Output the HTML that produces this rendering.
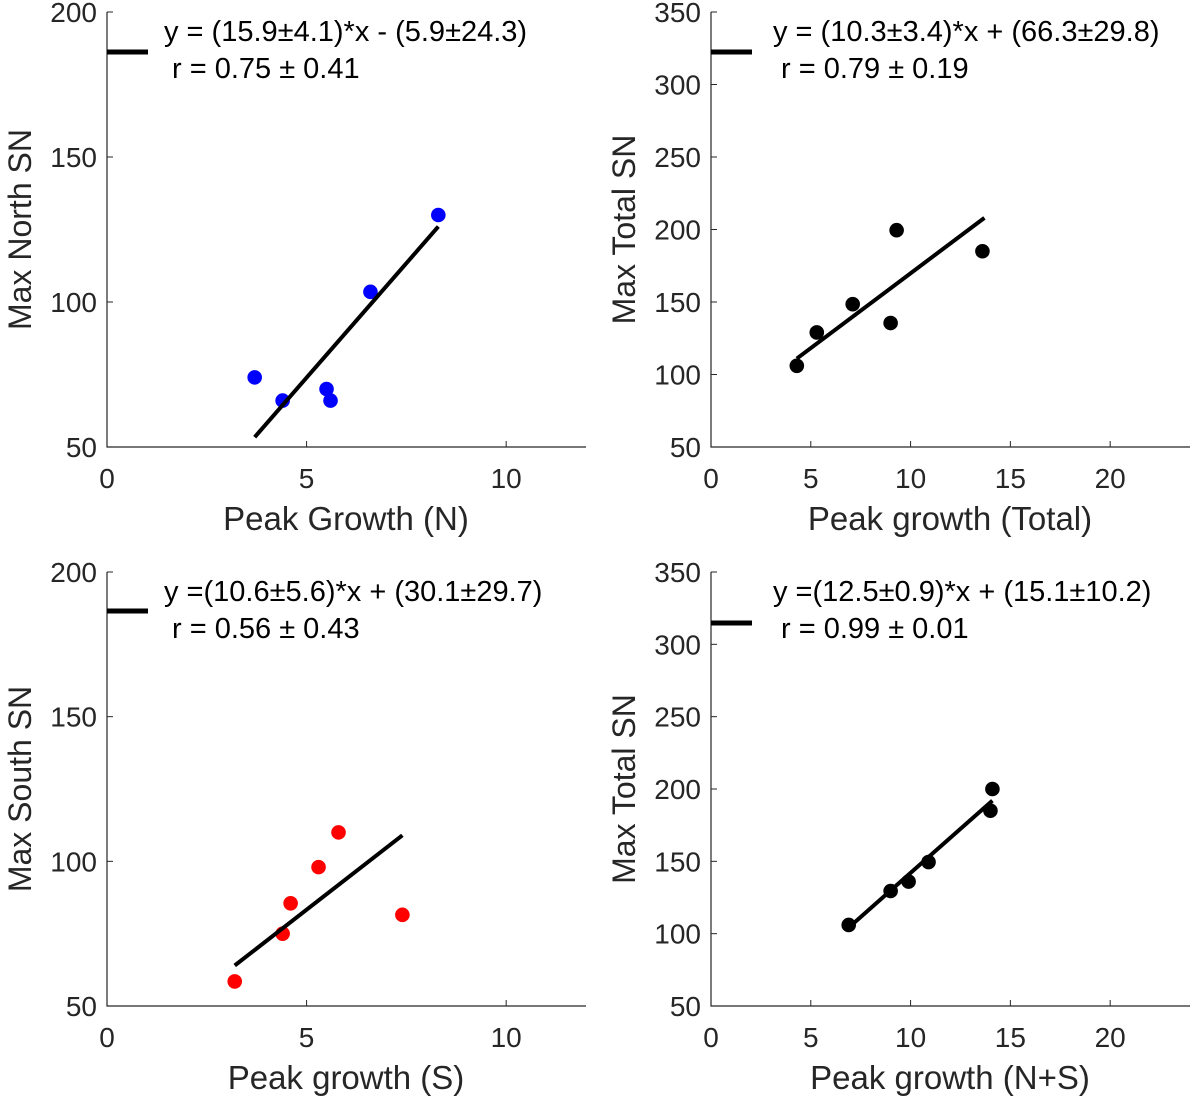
<!DOCTYPE html>
<html><head><meta charset="utf-8"><style>
body{margin:0;background:#fff;}
svg{display:block;font-family:"Liberation Sans",sans-serif;}
</style></head><body>
<svg id="chart" width="1200" height="1103" viewBox="0 0 1200 1103"></svg>
<script>
const p1X=[3.7,4.4,5.5,5.6,6.6,8.3];
const p1Y=[74,66,70,66,103.5,130];
const p1Fit=[[3.7,53.4],[8.3,126]];
const p2X=[4.3,5.3,7.1,9.0,9.3,13.6];
const p2Y=[106,129,148.5,135.5,199.5,185];
const p2Fit=[[4.3,111],[13.7,208]];
const p3X=[3.2,4.4,4.6,5.3,5.8,7.4];
const p3Y=[58.5,75,85.5,98,110,81.5];
const p3Fit=[[3.2,64],[7.4,109]];
const p4X=[6.9,9.0,9.9,10.9,14.0,14.1];
const p4Y=[106,129.5,136,149.5,185,200];
const p4Fit=[[6.8,103],[14.1,192]];
const xTicks1=[0,5,10];
const xTicks2=[0,5,10,15,20];
const yTicks1=[50,100,150,200];
const yTicks2=[50,100,150,200,250,300,350];

const NS="http://www.w3.org/2000/svg";
const svg=document.getElementById('chart');
function mk(tag,attrs,parent){const e=document.createElementNS(NS,tag);for(const k in attrs)e.setAttribute(k,attrs[k]);(parent||svg).appendChild(e);return e;}

function panel(o){
  const g=mk('g',{});
  
  
  const sx=v=>o.L+(v-o.x0)/(o.x1-o.x0)*(o.R-o.L);
  const sy=v=>o.B-(v-o.y0)/(o.y1-o.y0)*(o.B-o.T);
  const ax=mk('path',{d:`M${o.L},${o.T}V${o.B}H${o.R}`,stroke:'#262626','stroke-width':1.2,fill:'none'},g);
  
  
  o.xt.forEach(v=>{
    const x=sx(v);
    mk('line',{x1:x,x2:x,y1:o.B,y2:o.B-6,stroke:'#262626','stroke-width':1},g);
    const t=mk('text',{x:x,y:o.B+41,'text-anchor':'middle','font-size':28,fill:'#262626'},g);
    t.textContent=String(v);
    
    
  });
  o.yt.forEach(v=>{
    const y=sy(v);
    mk('line',{x1:o.L,x2:o.L+6,y1:y,y2:y,stroke:'#262626','stroke-width':1},g);
    const t=mk('text',{x:o.L-10,y:y+10,'text-anchor':'end','font-size':28,fill:'#262626'},g);
    t.textContent=String(v);
    
    
  });
  const xt=mk('text',{x:(o.L+o.xlc),y:o.B+83,'text-anchor':'middle','font-size':33,fill:'#262626'},g);
  xt.textContent=o.xlabel;
  
  
  const yc=(o.T+o.B)/2;
  const yx=o.L-76;
  const yt=mk('text',{x:yx,y:yc,'text-anchor':'middle','font-size':32,fill:'#262626',transform:`rotate(-90 ${yx} ${yc})`},g);
  yt.textContent=o.ylabel;
  
  
  o.X.forEach((v,i)=>{
    const c=mk('circle',{cx:sx(v),cy:sy(o.Y[i]),r:7.3,fill:o.color},g);
    
    
  });
  const f=mk('line',{x1:sx(o.fit[0][0]),y1:sy(o.fit[0][1]),x2:sx(o.fit[1][0]),y2:sy(o.fit[1][1]),stroke:'#000','stroke-width':4},g);
  
  
  const lg=mk('line',{x1:o.L,x2:o.L+41,y1:o.legY,y2:o.legY,stroke:'#000','stroke-width':5},g);
  
  
  const t1=mk('text',{x:o.L+o.eqx,y:o.T+29,'font-size':29,fill:'#000'},g);
  t1.textContent=o.eq;
  
  
  const t2=mk('text',{x:o.L+o.eqx+8,y:o.T+66,'font-size':29,fill:'#000'},g);
  t2.textContent=o.r;
  
  
}
panel({name:'panel-north',L:107,R:586,T:12,B:447,x0:0,x1:12,y0:50,y1:200,xt:xTicks1,yt:yTicks1,X:p1X,Y:p1Y,fit:p1Fit,color:'#0000ff',xlabel:'Peak Growth (N)',xlc:239,ylabel:'Max North SN',legY:52,eqx:57,eq:'y = (15.9±4.1)*x - (5.9±24.3)',r:'r = 0.75 ± 0.41'});
panel({name:'panel-total',L:711,R:1190,T:12,B:447,x0:0,x1:24,y0:50,y1:350,xt:xTicks2,yt:yTicks2,X:p2X,Y:p2Y,fit:p2Fit,color:'#000',xlabel:'Peak growth (Total)',xlc:239,ylabel:'Max Total SN',legY:52,eqx:62,eq:'y = (10.3±3.4)*x + (66.3±29.8)',r:'r = 0.79 ± 0.19'});
panel({name:'panel-south',L:107,R:586,T:572,B:1006,x0:0,x1:12,y0:50,y1:200,xt:xTicks1,yt:yTicks1,X:p3X,Y:p3Y,fit:p3Fit,color:'#ff0000',xlabel:'Peak growth (S)',xlc:239,ylabel:'Max South SN',legY:611,eqx:57,eq:'y =(10.6±5.6)*x + (30.1±29.7)',r:'r = 0.56 ± 0.43'});
panel({name:'panel-total-ns',L:711,R:1190,T:572,B:1006,x0:0,x1:24,y0:50,y1:350,xt:xTicks2,yt:yTicks2,X:p4X,Y:p4Y,fit:p4Fit,color:'#000',xlabel:'Peak growth (N+S)',xlc:239,ylabel:'Max Total SN',legY:623,eqx:62,eq:'y =(12.5±0.9)*x + (15.1±10.2)',r:'r = 0.99 ± 0.01'});
</script>
</body></html>
